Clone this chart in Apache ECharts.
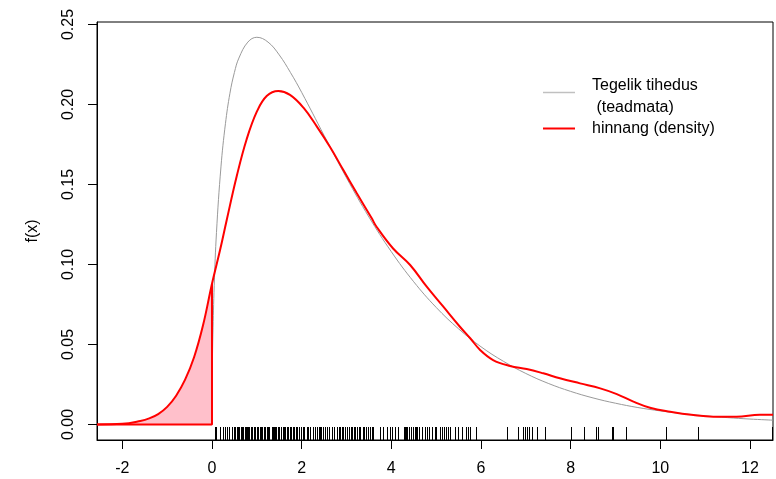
<!DOCTYPE html>
<html>
<head>
<meta charset="utf-8">
<script src="https://cdn.jsdelivr.net/npm/echarts@6/dist/echarts.min.js"></script>
<style>
html,body{margin:0;padding:0;background:#fff;}
#chart{width:776px;height:479px;}
</style>
</head>
<body>
<div id="chart"></div>
<script>
// Tick labels
const xTicks = [-2, 0, 2, 4, 6, 8, 10, 12];
const yTicks = [0, 0.05, 0.10, 0.15, 0.20, 0.25];

// True density (gray): [x, f(x)]
const trueX = [0, 0.01, 0.02, 0.05, 0.1, 0.2, 0.3, 0.4, 0.5, 0.6, 0.8, 1.0, 1.25, 1.5, 1.75, 2.0, 2.5, 3.0, 3.5, 4.0, 4.5, 5.0, 5.5, 6.0, 6.5, 7.0, 7.5, 8.0, 8.5, 9.0, 9.5, 10, 10.5, 11, 11.5, 12, 12.514];
const trueY = [0, 0.040, 0.056, 0.087, 0.120, 0.161, 0.188, 0.207, 0.220, 0.229, 0.239, 0.242, 0.239, 0.231, 0.220, 0.2076, 0.1807, 0.1542, 0.1297, 0.1080, 0.0892, 0.0732, 0.0598, 0.0486, 0.0395, 0.0319, 0.0257, 0.0207, 0.0166, 0.0133, 0.0106, 0.0085, 0.0068, 0.0054, 0.0043, 0.0034, 0.0027];

// Estimated density (red)
const estX = [-2.565, -2.0, -1.6, -1.4, -1.2, -1.0, -0.8, -0.6, -0.4, -0.2, 0.0, 0.18, 0.33, 0.55, 0.77, 1.0, 1.22, 1.48, 1.74, 2.04, 2.34, 2.63, 2.93, 3.23, 3.56, 3.67, 4.04, 4.42, 4.79, 5.16, 5.53, 5.76, 5.98, 6.27, 6.65, 7.02, 7.39, 7.76, 8.21, 8.66, 9.03, 9.40, 9.77, 10.22, 10.74, 11.18, 11.70, 12.22, 12.514];
const estY = [0.0000, 0.0004, 0.0022, 0.0038, 0.0065, 0.0110, 0.0180, 0.0280, 0.0420, 0.0620, 0.0880, 0.1090, 0.1280, 0.1550, 0.1780, 0.1955, 0.2053, 0.2084, 0.2060, 0.1980, 0.1862, 0.1736, 0.1590, 0.1445, 0.1290, 0.1236, 0.1100, 0.0997, 0.0861, 0.0736, 0.0611, 0.0539, 0.0466, 0.0403, 0.0366, 0.0347, 0.0320, 0.0289, 0.0257, 0.0226, 0.0190, 0.0143, 0.0105, 0.0080, 0.0059, 0.0049, 0.0049, 0.0061, 0.0061];

// Observations (rug)
const rugX = [0.07, 0.09, 0.18, 0.24, 0.28, 0.33, 0.39, 0.44, 0.49, 0.52, 0.55, 0.58, 0.61, 0.64, 0.66, 0.69, 0.73, 0.76, 0.78, 0.80, 0.83, 0.86, 0.89, 0.94, 0.97, 1.00, 1.03, 1.06, 1.09, 1.12, 1.15, 1.18, 1.22, 1.25, 1.28, 1.33, 1.36, 1.38, 1.41, 1.43, 1.47, 1.50, 1.55, 1.58, 1.61, 1.63, 1.67, 1.70, 1.73, 1.77, 1.81, 1.84, 1.87, 1.90, 1.93, 1.98, 2.02, 2.06, 2.11, 2.15, 2.19, 2.25, 2.29, 2.34, 2.38, 2.41, 2.44, 2.48, 2.53, 2.57, 2.62, 2.67, 2.72, 2.78, 2.83, 2.86, 2.90, 2.93, 2.97, 3.01, 3.05, 3.09, 3.12, 3.16, 3.20, 3.24, 3.27, 3.31, 3.36, 3.40, 3.43, 3.47, 3.52, 3.56, 3.60, 3.75, 3.82, 3.90, 3.96, 4.01, 4.08, 4.15, 4.28, 4.31, 4.33, 4.36, 4.40, 4.43, 4.45, 4.49, 4.53, 4.56, 4.58, 4.61, 4.68, 4.75, 4.80, 4.83, 4.90, 4.97, 5.00, 5.09, 5.14, 5.18, 5.22, 5.27, 5.32, 5.42, 5.49, 5.57, 5.67, 5.70, 5.72, 5.75, 5.90, 6.57, 6.83, 6.93, 6.98, 7.03, 7.08, 7.13, 7.24, 7.43, 8.01, 8.30, 8.56, 8.60, 8.92, 8.94, 9.24, 10.13, 10.83, 12.49];

const legendLabels = ['Tegelik tihedus\n (teadmata)', 'hinnang (density)'];

const X_MIN = -2.565, X_MAX = 12.514, Y_MIN = -0.00969, Y_MAX = 0.25156;
const FONT = '"Liberation Sans", Arial, Helvetica, sans-serif';

const trueData = trueX.map((x, i) => [x, trueY[i]]);
const estData = estX.map((x, i) => [x, estY[i]]);
const shadeData = estData.filter(d => d[0] <= 0);
const shadeBorder = [[0, estY[estX.indexOf(0)]], [0, 0], [X_MIN, 0]];
const rugData = rugX.map(x => [x, Y_MIN]);

const chart = echarts.init(document.getElementById('chart'), null, {renderer: 'canvas'});
chart.setOption({
  animation: false,
  backgroundColor: '#ffffff',
  textStyle: {fontFamily: FONT},
  grid: {left: 97, top: 22, width: 676, height: 418, show: true, borderColor: '#000', borderWidth: 1, backgroundColor: 'transparent'},
  xAxis: {
    type: 'value', min: X_MIN, max: X_MAX,
    splitLine: {show: false},
    axisLine: {show: true, onZero: false, lineStyle: {color: '#000', width: 1}},
    axisTick: {show: true, inside: false, length: 9, customValues: xTicks, lineStyle: {color: '#000'}},
    axisLabel: {customValues: xTicks, fontSize: 16, color: '#000', margin: 21, fontFamily: FONT,
      formatter: v => String(v)}
  },
  yAxis: {
    type: 'value', min: Y_MIN, max: Y_MAX,
    name: 'f(x)', nameLocation: 'middle', nameGap: 56, nameRotate: 90,
    nameTextStyle: {fontSize: 16, color: '#000', fontFamily: FONT},
    splitLine: {show: false},
    axisLine: {show: true, onZero: false, lineStyle: {color: '#000', width: 1}},
    axisTick: {show: true, inside: false, length: 9, customValues: yTicks, lineStyle: {color: '#000'}},
    axisLabel: {customValues: yTicks, fontSize: 16, color: '#000', rotate: 90, margin: 20, fontFamily: FONT,
      formatter: v => v.toFixed(2)}
  },
  series: [
    {
      type: 'line', data: shadeData, smooth: 0.4, showSymbol: false,
      lineStyle: {width: 0}, areaStyle: {color: '#FFC0CB', opacity: 1}, z: 1
    },
    {
      type: 'line', data: shadeBorder, showSymbol: false,
      lineStyle: {color: '#FF0000', width: 2}, z: 3
    },
    {
      type: 'line', data: trueData, smooth: 0.4, showSymbol: false,
      lineStyle: {color: '#9a9a9a', width: 1}, z: 2
    },
    {
      type: 'line', data: estData, smooth: 0.4, showSymbol: false,
      lineStyle: {color: '#FF0000', width: 2}, z: 4
    },
    {
      type: 'custom', data: rugData, clip: true, z: 5,
      renderItem: function (params, api) {
        const p = api.coord([api.value(0), api.value(1)]);
        const x = Math.round(p[0]) + 0.5;
        return {type: 'line', shape: {x1: x, y1: p[1], x2: x, y2: p[1] - 13},
          style: {stroke: '#000', lineWidth: 1}};
      }
    }
  ],
  graphic: [
    {type: 'line', shape: {x1: 543, y1: 92.5, x2: 575, y2: 92.5}, style: {stroke: '#c0c0c0', lineWidth: 1.5}},
    {type: 'line', shape: {x1: 543, y1: 128.5, x2: 575, y2: 128.5}, style: {stroke: '#FF0000', lineWidth: 2}},
    {type: 'text', left: 592, top: 74, style: {text: legendLabels[0], fontSize: 16, lineHeight: 22.3, fill: '#000', fontFamily: FONT}},
    {type: 'text', left: 592, top: 118, style: {text: legendLabels[1], fontSize: 16, lineHeight: 22, fill: '#000', fontFamily: FONT}}
  ]
});
</script>
</body>
</html>
